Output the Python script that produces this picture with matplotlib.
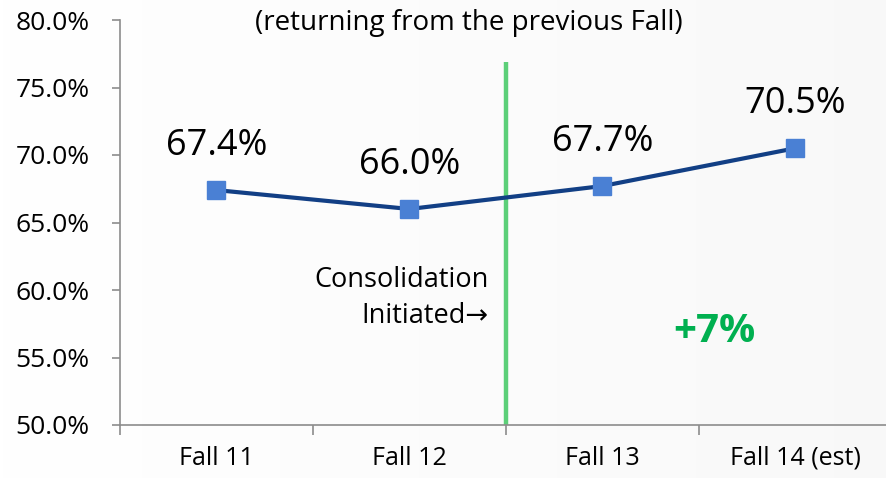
import numpy as np
import matplotlib.pyplot as plt
from matplotlib.ticker import FuncFormatter

categories = ["Fall 11", "Fall 12", "Fall 13", "Fall 14 (est)"]
values = [67.4, 66.0, 67.7, 70.5]
value_labels = ["67.4%", "66.0%", "67.7%", "70.5%"]
yticks = [50, 55, 60, 65, 70, 75, 80]

plt.rcParams['font.family'] = ['Open Sans', 'DejaVu Sans']

fig = plt.figure(figsize=(8.86, 4.78), dpi=100)

# faint white-to-grey background
bg = fig.add_axes([0, 0, 1, 1], zorder=-10)
grad = np.linspace(1.0, 0.975, 256).reshape(1, -1)
bg.imshow(np.dstack([grad, grad, grad]), aspect='auto', extent=[0, 1, 0, 1])
bg.axis('off')

ax = fig.add_axes([120/886, 53/478, 1 - 120/886, 405/478])
ax.patch.set_alpha(0)

x = np.arange(len(categories))
ax.plot(x, values, color='#123f85', lw=3, marker='s', ms=13,
        mfc='#4a80d4', mec='#4a80d4', zorder=3)
for xi, v, lab in zip(x, values, value_labels):
    ax.annotate(lab, (xi, v), xytext=(0, 32), textcoords='offset points',
                ha='center', va='center', fontsize=26)

ax.set_xlim(-0.5, 3.47)
ax.set_ylim(50, 80)
ax.set_yticks(yticks)
ax.yaxis.set_major_formatter(FuncFormatter(lambda v, p: f"{v:.1f}%"))
ax.set_xticks(x)
ax.set_xticklabels(categories)
ax.set_xticks(np.arange(-0.5, 3.5, 1.0), minor=True)
ax.tick_params(axis='x', which='major', length=0, labelsize=18, pad=15)
ax.tick_params(axis='x', which='minor', length=7, color='#8c8c8c', width=1.2)
ax.tick_params(axis='y', length=6, color='#8c8c8c', width=1.2, labelsize=19, pad=16)
for s in ['top', 'right']:
    ax.spines[s].set_visible(False)
for s in ['left', 'bottom']:
    ax.spines[s].set_color('#8c8c8c')
    ax.spines[s].set_linewidth(1.2)

ax.plot([1.5, 1.5], [50, 76.9], color='#5ccf78', lw=3.2, zorder=2, solid_capstyle='butt')

ax.text(1.31, 79.8, "(returning from the previous Fall)", ha='center', va='center', fontsize=20)
ax.text(1.41, 59.4, "Consolidation\nInitiated\u2192", ha='right', va='center',
        fontsize=19.5, linespacing=1.35)
ax.text(2.58, 56.9, "+7%", ha='center', va='center', fontsize=29,
        fontweight='bold', color='#00b050')

fig.savefig("out.png", dpi=100)
